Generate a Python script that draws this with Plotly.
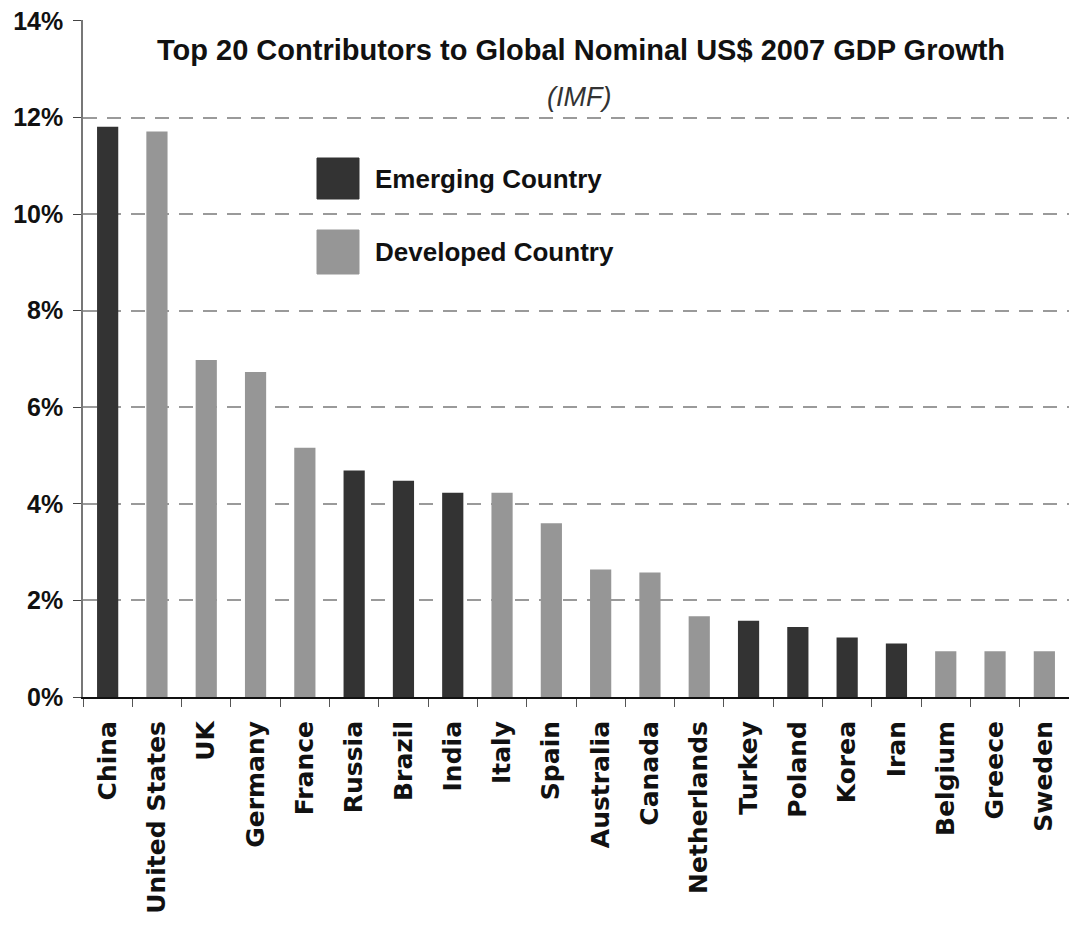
import plotly.graph_objects as go

# Contribution of each country to 2007 global nominal US$ GDP growth (%)
countries = ["China", "United States", "UK", "Germany", "France", "Russia", "Brazil",
             "India", "Italy", "Spain", "Australia", "Canada", "Netherlands", "Turkey",
             "Poland", "Korea", "Iran", "Belgium", "Greece", "Sweden"]
contribution = [11.81, 11.71, 6.98, 6.73, 5.16, 4.69, 4.48, 4.23, 4.23, 3.60,
                2.64, 2.58, 1.67, 1.58, 1.45, 1.23, 1.11, 0.95, 0.95, 0.95]
group = ["Emerging", "Developed", "Developed", "Developed", "Developed", "Emerging",
         "Emerging", "Emerging", "Developed", "Developed", "Developed", "Developed",
         "Developed", "Emerging", "Emerging", "Emerging", "Emerging", "Developed",
         "Developed", "Developed"]
y_ticks = [0, 2, 4, 6, 8, 10, 12, 14]
y_tick_labels = ["0%", "2%", "4%", "6%", "8%", "10%", "12%", "14%"]

EMERGING = "#333333"
DEVELOPED = "#969696"
colors = [EMERGING if g == "Emerging" else DEVELOPED for g in group]

SANS = "Liberation Sans, Arial, sans-serif"
WIDE = "DejaVu Sans, Verdana, sans-serif"

W, H = 1069, 928
L, R, T, B = 83, 0, 20, 231
pw, ph = W - L - R, H - T - B


def px_x(x):
    return (x - L) / pw


def px_y(y):
    return (H - B - y) / ph


fig = go.Figure()
fig.add_trace(go.Bar(
    x=countries, y=contribution,
    marker=dict(color=colors, line=dict(width=0)),
    showlegend=False,
))

fig.update_layout(
    width=W, height=H,
    margin=dict(l=L, r=R, t=T, b=B),
    paper_bgcolor="white", plot_bgcolor="white",
    bargap=0.57,
    xaxis=dict(
        type="category", tickangle=-90,
        tickfont=dict(family=WIDE, size=25, color="#111111", weight="bold"),
        showline=True, linecolor="#111111", linewidth=2,
        ticks="outside", tickson="boundaries", ticklen=8, tickcolor="#555555",
        ticklabelstandoff=12,
        showgrid=False,
    ),
    yaxis=dict(
        range=[0, 14.02], tickvals=y_ticks,
        ticktext=["<b>" + t + "</b>" for t in y_tick_labels],
        tickfont=dict(family=SANS, size=25, color="#111111"),
        showline=True, linecolor="#777777", linewidth=1.5,
        ticks="outside", ticklen=8, tickcolor="#444444",
        ticklabelstandoff=5,
        showgrid=True, gridcolor="#9a9a9a", griddash="14px,10px", gridwidth=1.5,
        zeroline=False,
    ),
    font=dict(family=SANS),
)

# Title and source
fig.add_annotation(
    xref="paper", yref="paper", x=px_x(581), y=px_y(50),
    text="<b>Top 20 Contributors to Global Nominal US$ 2007 GDP Growth</b>",
    showarrow=False, font=dict(family=SANS, size=29, color="#111111"),
    xanchor="center", yanchor="middle",
)
fig.add_annotation(
    xref="paper", yref="paper", x=px_x(579), y=px_y(97),
    text="<i>(IMF)</i>",
    showarrow=False, font=dict(family=SANS, size=27, color="#333333"),
    xanchor="center", yanchor="middle",
)

# Key for the two country groups
for (y0, y1, color, label) in [(158, 199, EMERGING, "Emerging Country"),
                                (230, 274, DEVELOPED, "Developed Country")]:
    fig.add_shape(
        type="rect", xref="paper", yref="paper",
        x0=px_x(317), x1=px_x(359), y0=px_y(y1), y1=px_y(y0),
        fillcolor=color, line=dict(color=color, width=1),
    )
    fig.add_annotation(
        xref="paper", yref="paper", x=px_x(373), y=px_y((y0 + y1) / 2),
        text="<b>" + label + "</b>", showarrow=False,
        font=dict(family=SANS, size=26, color="#111111"),
        xanchor="left", yanchor="middle",
    )

fig.write_html("out.html")
